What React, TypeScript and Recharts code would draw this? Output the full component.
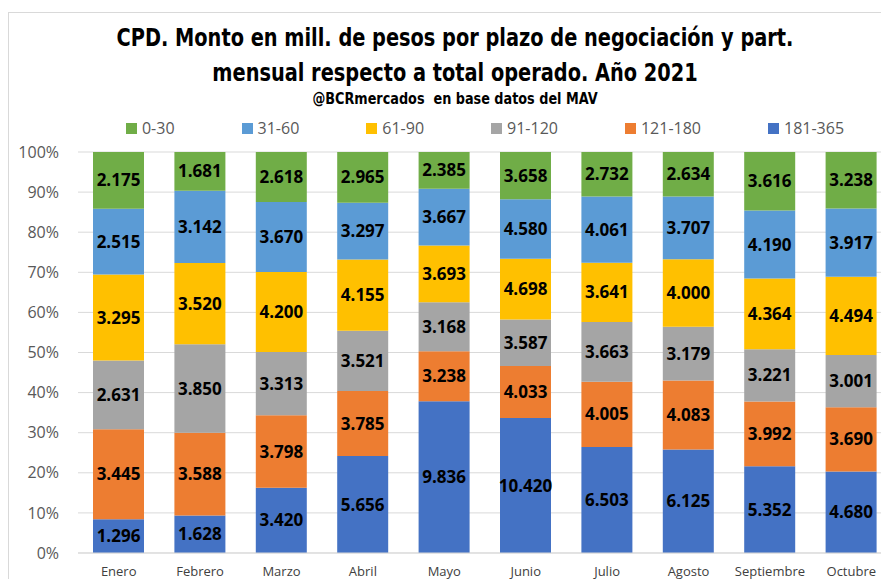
import React from "react";
import {
  BarChart,
  Bar,
  XAxis,
  YAxis,
  CartesianGrid,
  Legend,
  LabelList,
} from "recharts";

const months = [
  "Enero",
  "Febrero",
  "Marzo",
  "Abril",
  "Mayo",
  "Junio",
  "Julio",
  "Agosto",
  "Septiembre",
  "Octubre",
];

// montos en millones de pesos por plazo (días)
const d0_30 = [2175, 1681, 2618, 2965, 2385, 3658, 2732, 2634, 3616, 3238];
const d31_60 = [2515, 3142, 3670, 3297, 3667, 4580, 4061, 3707, 4190, 3917];
const d61_90 = [3295, 3520, 4200, 4155, 3693, 4698, 3641, 4000, 4364, 4494];
const d91_120 = [2631, 3850, 3313, 3521, 3168, 3587, 3663, 3179, 3221, 3001];
const d121_180 = [3445, 3588, 3798, 3785, 3238, 4033, 4005, 4083, 3992, 3690];
const d181_365 = [1296, 1628, 3420, 5656, 9836, 10420, 6503, 6125, 5352, 4680];

const yTicks = [0, 0.1, 0.2, 0.3, 0.4, 0.5, 0.6, 0.7, 0.8, 0.9, 1];

// stack order, bottom to top
const series = [
  { key: "s181_365", name: "181-365", color: "#4472C4", values: d181_365 },
  { key: "s121_180", name: "121-180", color: "#ED7D31", values: d121_180 },
  { key: "s91_120", name: "91-120", color: "#A5A5A5", values: d91_120 },
  { key: "s61_90", name: "61-90", color: "#FFC000", values: d61_90 },
  { key: "s31_60", name: "31-60", color: "#5B9BD5", values: d31_60 },
  { key: "s0_30", name: "0-30", color: "#70AD47", values: d0_30 },
];

const data = months.map((m, i) => {
  const row: Record<string, string | number> = { month: m };
  series.forEach((s) => {
    row[s.key] = s.values[i];
  });
  return row;
});

const fmt = (v: any) => {
  const n = Number(v);
  const miles = Math.floor(n / 1000);
  const resto = String(n % 1000).padStart(3, "0");
  return miles > 0 ? `${miles}.${resto}` : String(n);
};

const font = "'Open Sans', 'DejaVu Sans', sans-serif";
const narrow = "'DejaVu Sans Condensed', 'DejaVu Sans', sans-serif";

const renderLegend = () => (
  <div
    style={{
      display: "flex",
      justifyContent: "center",
      alignItems: "center",
      gap: 67,
      fontFamily: font,
      fontSize: 16,
      color: "#595959",
    }}
  >
    {[...series].reverse().map((s) => (
      <div key={s.key} style={{ display: "flex", alignItems: "center" }}>
        <span
          style={{
            width: 11,
            height: 11,
            background: s.color,
            display: "inline-block",
            marginRight: 5,
          }}
        />
        <span>{s.name}</span>
      </div>
    ))}
  </div>
);

export default function App() {
  return (
    <div
      style={{
        position: "relative",
        width: 889,
        height: 587,
        margin: -8,
        overflow: "hidden",
        background: "#fff",
      }}
    >
      <div
        style={{
          position: "absolute",
          left: 8,
          top: 12,
          width: 1000,
          height: 700,
          border: "1px solid #d9d9d9",
        }}
      />
      <div
        style={{
          position: "absolute",
          left: 0,
          top: 20,
          width: 910,
          textAlign: "center",
          fontFamily: narrow,
          fontWeight: 700,
          fontSize: 25,
          lineHeight: "35px",
          color: "#000",
          transform: "scaleX(0.86)",
          transformOrigin: "455px 0",
        }}
      >
        CPD. Monto en mill. de pesos por plazo de negociación y part.
        <br />
        mensual respecto a total operado. Año 2021
      </div>
      <div
        style={{
          position: "absolute",
          left: 0,
          top: 90,
          width: 910,
          textAlign: "center",
          fontFamily: narrow,
          fontWeight: 700,
          fontSize: 15,
          color: "#000",
          whiteSpace: "pre",
          transform: "scaleX(0.95)",
          transformOrigin: "455px 0",
        }}
      >
        {"@BCRmercados  en base datos del MAV"}
      </div>
      <div style={{ position: "absolute", left: 0, top: 0 }}>
        <BarChart
          width={900}
          height={587}
          data={data}
          stackOffset="expand"
          barSize={51}
          margin={{ top: 152, right: 8, bottom: 4, left: 18 }}
        >
          <CartesianGrid vertical={false} stroke="#d9d9d9" />
          <XAxis
            dataKey="month"
            height={30}
            axisLine={{ stroke: "#d9d9d9" }}
            tickLine={false}
            tickMargin={8}
            interval={0}
            tick={{ fill: "#404040", fontSize: 13, fontFamily: font }}
          />
          <YAxis
            width={60}
            ticks={yTicks}
            domain={[0, 1]}
            axisLine={false}
            tickLine={false}
            tickMargin={13}
            tickFormatter={(v) => `${Math.round(v * 100)}%`}
            tick={{ fill: "#595959", fontSize: 16, fontFamily: font }}
          />
          <Legend
            layout="horizontal"
            verticalAlign="middle"
            align="center"
            content={renderLegend}
            wrapperStyle={{ top: 117, left: 78, width: 814 }}
          />
          {series.map((s) => (
            <Bar
              key={s.key}
              dataKey={s.key}
              name={s.name}
              stackId="a"
              fill={s.color}
              isAnimationActive={false}
            >
              <LabelList
                dataKey={s.key}
                position="center"
                formatter={fmt}
                fill="#000"
                style={{ fontFamily: font, fontWeight: 700, fontSize: 17 }}
              />
            </Bar>
          ))}
        </BarChart>
      </div>
    </div>
  );
}
